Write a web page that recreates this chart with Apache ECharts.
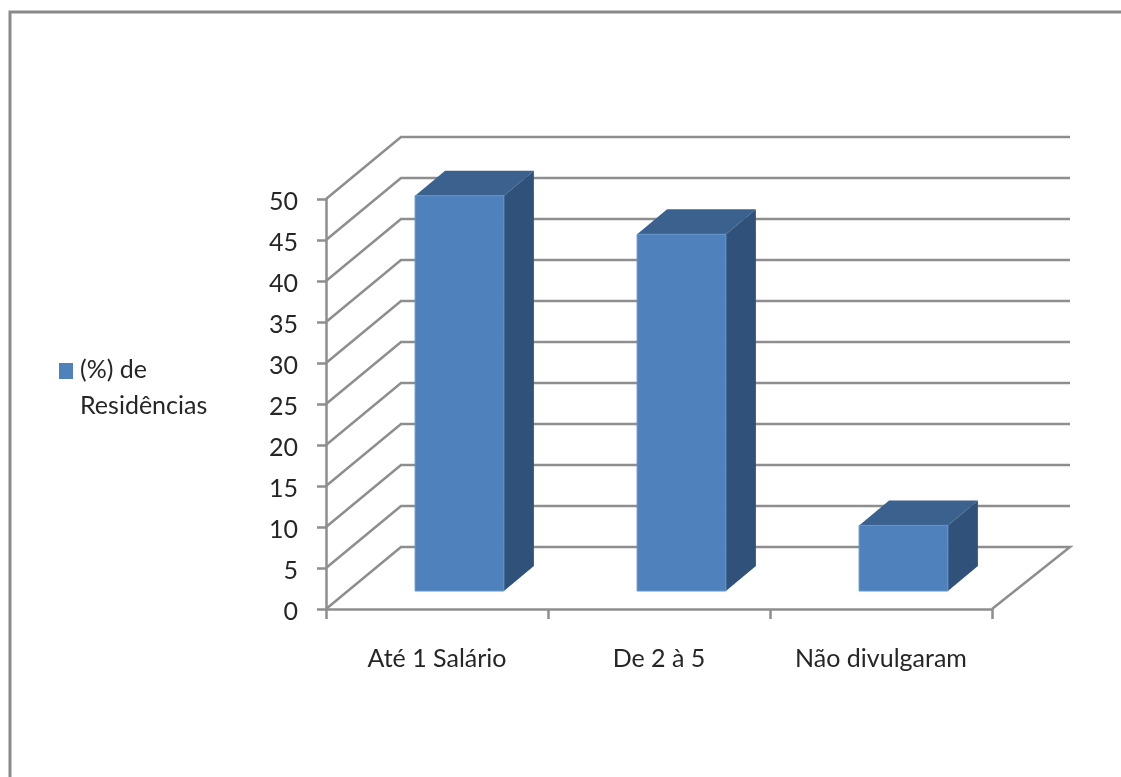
<!DOCTYPE html>
<html>
<head>
<meta charset="utf-8">
<style>html,body{margin:0;padding:0;background:#fff}#c{width:1121px;height:777px}</style>
<script src="https://cdn.jsdelivr.net/npm/echarts@6/dist/echarts.min.js"></script>
</head>
<body>
<div id="c"></div>
<script>
const categories = ['Até 1 Salário', 'De 2 à 5', 'Não divulgaram'];
const seriesName = '(%) de\nResidências';
const residencias = [48.2, 43.5, 8];
const yTicks = [0, 5, 10, 15, 20, 25, 30, 35, 40, 45, 50];

const FONT = 'Lato';
const TXT = '#262626';
const LINE = '#8e8e8e';
const WALL = [75, -62];
const BAR_OFF = [22.5, -18];
const BAR_DEPTH = [30, -25];

const chart = echarts.init(document.getElementById('c'), null, {renderer: 'canvas'});
chart.setOption({
  animation: false,
  backgroundColor: '#fff',
  graphic: [{
    type: 'rect', silent: true, z: 0,
    shape: {x: 10, y: 12, width: 1300, height: 900},
    style: {fill: '#fff', stroke: '#8a8a8a', lineWidth: 3}
  }],
  legend: {
    left: 54, top: 347, orient: 'vertical',
    itemWidth: 14, itemHeight: 50, itemGap: 0,
    icon: 'path://M0,0H14V16H0ZM0,50L0,50Z',
    textStyle: {fontFamily: FONT, fontSize: 25, color: TXT, lineHeight: 36, padding: [0, 0, 0, 2]},
    data: [seriesName]
  },
  grid: {left: 326, right: 129, top: 199, bottom: 168},
  xAxis: {
    type: 'category', data: categories, boundaryGap: true,
    axisLine: {lineStyle: {color: LINE, width: 2.5}},
    axisTick: {show: true, alignWithLabel: false, length: 10, lineStyle: {color: LINE, width: 2.5}},
    axisLabel: {fontFamily: FONT, fontSize: 25, color: TXT, margin: 37, interval: 0}
  },
  yAxis: {
    type: 'value', min: 0, max: 50, interval: 5,
    axisLine: {show: true, lineStyle: {color: LINE, width: 2.5}},
    axisTick: {show: true, length: 9, lineStyle: {color: LINE, width: 2.5}},
    axisLabel: {
      color: TXT, margin: 28,
      formatter: '{n|{value}}',
      rich: {n: {fontFamily: FONT, fontSize: 25, color: TXT, padding: [6, 0, 0, 0]}}
    },
    splitLine: {show: false}
  },
  series: [
    {
      type: 'custom', name: 'paredes', silent: true, z: 1,
      data: yTicks,
      encode: {y: 0},
      renderItem(params, api) {
        const v = api.value(0);
        const cs = params.coordSys;
        const y = api.coord([0, v])[1];
        const pts = [[cs.x, y], [cs.x + WALL[0], y + WALL[1]], [cs.x + cs.width + WALL[0] + 3, y + WALL[1]]];
        if (v === 0) pts.push([cs.x + cs.width, y]);
        return {type: 'polyline', shape: {points: pts}, style: {stroke: LINE, lineWidth: 2.5, fill: null}};
      }
    },
    {
      type: 'custom', name: seriesName, z: 3,
      itemStyle: {color: '#4f81bd'},
      data: residencias.map((v, i) => [i, v]),
      encode: {x: 0, y: 1},
      renderItem(params, api) {
        const i = api.value(0), v = api.value(1);
        const w = api.size([1, 0])[0] * 0.4;
        const c0 = api.coord([i, 0]), c1 = api.coord([i, v]);
        const l = c0[0] + BAR_OFF[0] - w / 2, r = l + w;
        const b = c0[1] + BAR_OFF[1], t = c1[1] + BAR_OFF[1];
        const dx = BAR_DEPTH[0], dy = BAR_DEPTH[1];
        return {type: 'group', children: [
          {type: 'polygon', shape: {points: [[l, t], [r, t], [r + dx, t + dy], [l + dx, t + dy]]}, style: {fill: '#3b618f'}},
          {type: 'polygon', shape: {points: [[r, t], [r + dx, t + dy], [r + dx, b + dy], [r, b]]}, style: {fill: '#30527a'}},
          {type: 'rect', shape: {x: l, y: t, width: w, height: b - t}, style: {fill: '#4f81bd', stroke: '#6492cb', lineWidth: 1}}
        ]};
      }
    }
  ]
});
</script>
</body>
</html>
